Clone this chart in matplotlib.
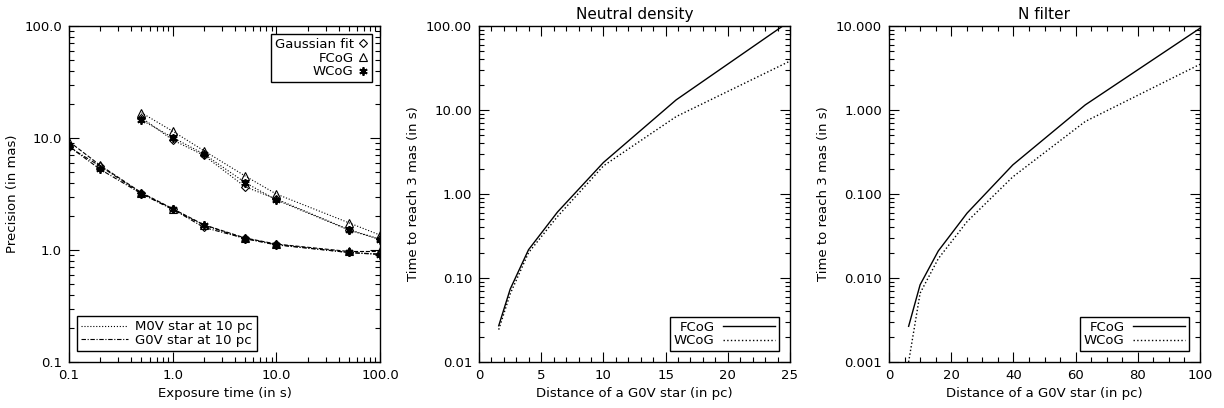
import numpy as np
import matplotlib
matplotlib.use("Agg")
import matplotlib.pyplot as plt
from matplotlib.ticker import FormatStrFormatter, MultipleLocator, NullFormatter
from matplotlib.lines import Line2D

plt.rcParams['font.family'] = ['DejaVu Sans']
plt.rcParams['font.size'] = 9.5

# panel 1: precision vs exposure time
t_m0v = [0.5, 1.0, 2.0, 5.0, 10.0, 50.0, 100.0]
m0v_gauss = [15.2, 9.6, 7.0, 3.67, 2.85, 1.52, 1.25]
m0v_fcog = [16.8, 11.5, 7.7, 4.58, 3.16, 1.75, 1.36]
m0v_wcog = [14.5, 10.1, 7.2, 4.0, 2.8, 1.51, 1.24]

t_g0v = [0.1, 0.2, 0.5, 1.0, 2.0, 5.0, 10.0, 50.0, 100.0]
g0v_gauss = [8.3, 5.6, 3.2, 2.32, 1.59, 1.27, 1.12, 0.95, 0.92]
g0v_fcog = [9.3, 5.7, 3.25, 2.34, 1.68, 1.28, 1.13, 0.97, 0.97]
g0v_wcog = [8.4, 5.25, 3.18, 2.30, 1.67, 1.26, 1.11, 0.95, 0.91]

# panel 2: neutral density
dist_nd = [1.585, 2.512, 3.981, 6.310, 10.0, 15.85, 25.12]
nd_fcog = [0.027, 0.074, 0.217, 0.61, 2.37, 13.2, 118.0]
nd_wcog = [0.0243, 0.065, 0.20, 0.54, 2.16, 8.35, 39.0]

# panel 3: N filter
dist_n = [6.310, 10.0, 15.85, 25.12, 39.81, 63.10, 100.0]
n_fcog = [0.00266, 0.0083, 0.021, 0.0593, 0.222, 1.15, 9.4]
n_wcog = [0.001, 0.0066, 0.017, 0.047, 0.16, 0.73, 3.5]

asterisk = (6, 2, 0)
dashdot = (0, (4, 1.5, 1, 1.5))

fig = plt.figure(figsize=(12.24, 4.08), dpi=100)
W, H = 1224, 408
ax1 = fig.add_axes([69 / W, 46 / H, 311 / W, 336 / H])
ax2 = fig.add_axes([479 / W, 46 / H, 311 / W, 336 / H])
ax3 = fig.add_axes([889 / W, 46 / H, 311 / W, 336 / H])


def style(ax):
    ax.tick_params(which='both', direction='in', top=True, right=True, width=0.8, pad=5)
    ax.tick_params(which='major', length=7)
    ax.tick_params(which='minor', length=3.5)
    for s in ax.spines.values():
        s.set_linewidth(1.0)


# panel 1
lw = 0.8
ms = 6
dmk = dict(marker='D', ms=4, mfc='none', mew=0.8)
tmk = dict(marker='^', ms=ms, mfc='none', mew=0.8)
amk = dict(marker=asterisk, ms=ms, mew=1.3)
ax1.plot(t_m0v, m0v_gauss, ':', color='k', lw=lw, **dmk)
ax1.plot(t_m0v, m0v_fcog, ':', color='k', lw=lw, **tmk)
ax1.plot(t_m0v, m0v_wcog, ':', color='k', lw=lw, **amk)
ax1.plot(t_g0v, g0v_gauss, ls=dashdot, color='k', lw=lw, **dmk)
ax1.plot(t_g0v, g0v_fcog, '--', color='k', lw=lw, **tmk)
ax1.plot(t_g0v, g0v_wcog, ls=dashdot, color='k', lw=lw, **amk)
ax1.set_xscale('log')
ax1.set_yscale('log')
ax1.set_xlim(0.1, 100)
ax1.set_ylim(0.1, 100)
ax1.xaxis.set_major_formatter(FormatStrFormatter('%.1f'))
ax1.yaxis.set_major_formatter(FormatStrFormatter('%.1f'))
ax1.xaxis.set_minor_formatter(NullFormatter())
ax1.yaxis.set_minor_formatter(NullFormatter())
ax1.set_xlabel('Exposure time (in s)')
ax1.set_ylabel('Precision (in mas)')
style(ax1)

mk_handles = [
    Line2D([], [], ls='none', color='k', **dmk),
    Line2D([], [], ls='none', color='k', **tmk),
    Line2D([], [], ls='none', color='k', **amk),
]
leg1 = ax1.legend(mk_handles, ['Gaussian fit', 'FCoG', 'WCoG'], loc='upper right',
                  markerfirst=False, fancybox=False, edgecolor='k', framealpha=1,
                  handlelength=0.8, handletextpad=0.3, labelspacing=0.05,
                  borderpad=0.3, borderaxespad=0.6)
leg1.get_frame().set_linewidth(1.0)
ax1.add_artist(leg1)

ls_handles = [
    Line2D([], [], ls=':', color='k', lw=lw),
    Line2D([], [], ls=dashdot, color='k', lw=lw),
]
leg2 = ax1.legend(ls_handles, ['M0V star at 10 pc', 'G0V star at 10 pc'], loc='lower left',
                  fancybox=False, edgecolor='k', framealpha=1, handlelength=3.6,
                  handletextpad=0.5, labelspacing=0.05, borderpad=0.3,
                  bbox_to_anchor=(0.025, 0.033), borderaxespad=0)
leg2.get_frame().set_linewidth(1.0)

# panels 2 and 3
for ax, x, f, w, ylim, fmt, title, xmaj, xmin, xlim in [
    (ax2, dist_nd, nd_fcog, nd_wcog, (0.01, 100), '%.2f', 'Neutral density', 5, 1, (0, 25)),
    (ax3, dist_n, n_fcog, n_wcog, (0.001, 10), '%.3f', 'N filter', 20, 5, (0, 100)),
]:
    ax.plot(x, f, '-', color='k', lw=1.0, label='FCoG')
    ax.plot(x, w, ':', color='k', lw=1.0, label='WCoG')
    ax.set_yscale('log')
    ax.set_xlim(*xlim)
    ax.set_ylim(*ylim)
    ax.xaxis.set_major_locator(MultipleLocator(xmaj))
    ax.xaxis.set_minor_locator(MultipleLocator(xmin))
    ax.yaxis.set_major_formatter(FormatStrFormatter(fmt))
    ax.yaxis.set_minor_formatter(NullFormatter())
    ax.set_xlabel('Distance of a G0V star (in pc)')
    ax.set_ylabel('Time to reach 3 mas (in s)')
    ax.set_title(title, fontsize=11, pad=5)
    style(ax)
    leg = ax.legend(loc='lower right', markerfirst=False, fancybox=False, edgecolor='k',
                    framealpha=1, handlelength=4.0, handletextpad=0.6, labelspacing=0.05,
                    borderpad=0.3, borderaxespad=0.8)
    leg.get_frame().set_linewidth(1.0)

fig.savefig('out.png', dpi=100)
